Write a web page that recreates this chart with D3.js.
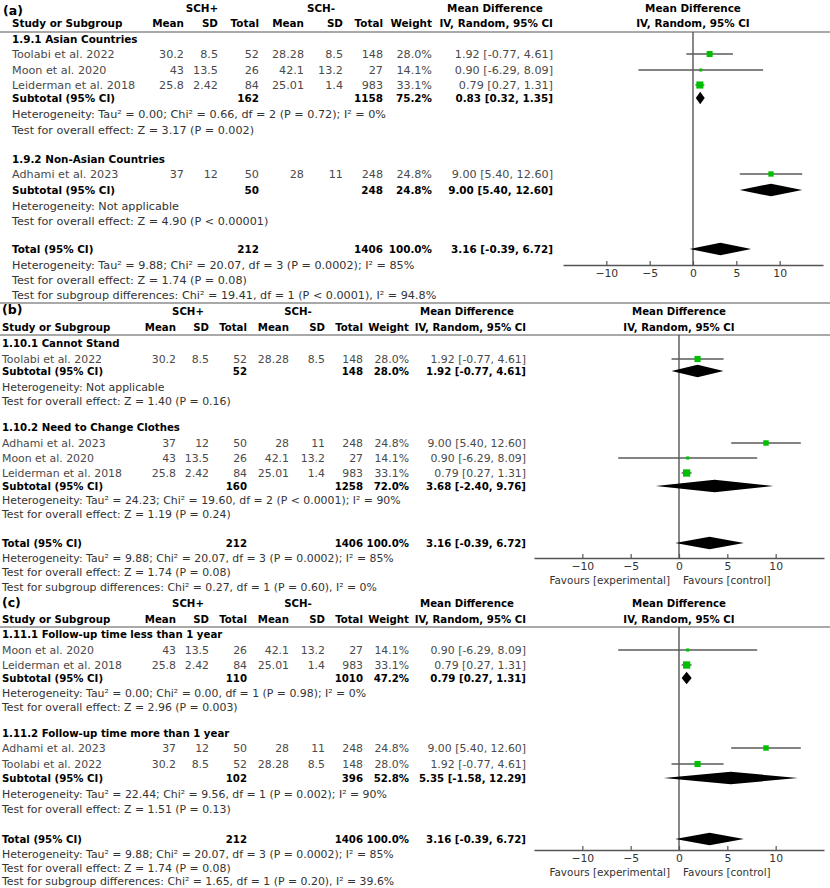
<!DOCTYPE html>
<html><head><meta charset="utf-8">
<script src="https://cdn.jsdelivr.net/npm/d3@7"></script>
<style>
body{margin:0;background:#fff}
svg{display:block}
text{font-family:"DejaVu Sans",sans-serif}
</style>
</head><body>
<svg id="chart" width="830" height="888"></svg>
<script>
// ---------------- DATA ----------------
const studyNames = ["Toolabi et al. 2022", "Moon et al. 2020", "Leiderman et al. 2018", "Adhami et al. 2023"];
const posMean = ["30.2", "43", "25.8", "37"];
const posSD = ["8.5", "13.5", "2.42", "12"];
const posTotal = [52, 26, 84, 50];
const negMean = ["28.28", "42.1", "25.01", "28"];
const negSD = ["8.5", "13.2", "1.4", "11"];
const negTotal = [148, 27, 983, 248];
const studyWeight = [28.0, 14.1, 33.1, 24.8];
const studyMD = [1.92, 0.90, 0.79, 9.00];
const studyLow = [-0.77, -6.29, 0.27, 5.40];
const studyHigh = [4.61, 8.09, 1.31, 12.60];

const panelLabels = ["(a)", "(b)", "(c)"];
const groupTitles = [
  ["1.9.1 Asian Countries", "1.9.2 Non-Asian Countries"],
  ["1.10.1 Cannot Stand", "1.10.2 Need to Change Clothes"],
  ["1.11.1 Follow-up time less than 1 year", "1.11.2 Follow-up time more than 1 year"]
];
const groupStudies = [
  [[0, 1, 2], [3]],
  [[0], [3, 1, 2]],
  [[1, 2], [3, 0]]
];
const subPosTotal = [[162, 50], [52, 160], [110, 102]];
const subNegTotal = [[1158, 248], [148, 1258], [1010, 396]];
const subWeight = [["75.2%", "24.8%"], ["28.0%", "72.0%"], ["47.2%", "52.8%"]];
const subMD = [[0.83, 9.00], [1.92, 3.68], [0.79, 5.35]];
const subLow = [[0.32, 5.40], [-0.77, -2.40], [0.27, -1.58]];
const subHigh = [[1.35, 12.60], [4.61, 9.76], [1.31, 12.29]];
const subHet = [
  ["Heterogeneity: Tau² = 0.00; Chi² = 0.66, df = 2 (P = 0.72); I² = 0%", "Heterogeneity: Not applicable"],
  ["Heterogeneity: Not applicable", "Heterogeneity: Tau² = 24.23; Chi² = 19.60, df = 2 (P < 0.0001); I² = 90%"],
  ["Heterogeneity: Tau² = 0.00; Chi² = 0.00, df = 1 (P = 0.98); I² = 0%", "Heterogeneity: Tau² = 22.44; Chi² = 9.56, df = 1 (P = 0.002); I² = 90%"]
];
const subTest = [
  ["Test for overall effect: Z = 3.17 (P = 0.002)", "Test for overall effect: Z = 4.90 (P < 0.00001)"],
  ["Test for overall effect: Z = 1.40 (P = 0.16)", "Test for overall effect: Z = 1.19 (P = 0.24)"],
  ["Test for overall effect: Z = 2.96 (P = 0.003)", "Test for overall effect: Z = 1.51 (P = 0.13)"]
];
const subgroupTests = [
  "Test for subgroup differences: Chi² = 19.41, df = 1 (P < 0.0001), I² = 94.8%",
  "Test for subgroup differences: Chi² = 0.27, df = 1 (P = 0.60), I² = 0%",
  "Test for subgroup differences: Chi² = 1.65, df = 1 (P = 0.20), I² = 39.6%"
];
const totalPos = 212, totalNeg = 1406, totalWeight = "100.0%";
const totalMD = 3.16, totalLow = -0.39, totalHigh = 6.72;
const totalHet = "Heterogeneity: Tau² = 9.88; Chi² = 20.07, df = 3 (P = 0.0002); I² = 85%";
const totalTest = "Test for overall effect: Z = 1.74 (P = 0.08)";
const tickValues = [-10, -5, 0, 5, 10];
const axisDomain = [-15, 15];
const favourLabels = ["Favours [experimental]", "Favours [control]"];

// ---------------- LAYOUT ----------------
const layouts = [
  { fs: 11.2, fb: 10.4, labelX: 3, labelY: 11, h1: 8, h2: 23, line: 32,
    c: {study: 12, pm: 184, psd: 218, pn: 259, nm: 304, nsd: 343, nn: 383, w: 432, md: 553, schP: 202, schN: 321, mdHdr: 495},
    range: [563, 823], axisY: 265, favours: false, sq: 0.215,
    gy: [39, 159], sy: [[54, 70, 85], [174]], suby: [98, 190], hety: [114, 206], testy: [130, 221],
    toty: 249, totHety: 265, totTesty: 280, sgy: 295, topLine: null },
  { fs: 10.9, fb: 10.2, labelX: 2, labelY: 310, h1: 311, h2: 327, line: 335,
    c: {study: 2, pm: 176, psd: 209, pn: 247, nm: 289, nsd: 325, nn: 363, w: 409, md: 526, schP: 188, schN: 298, mdHdr: 467},
    range: [534, 824], axisY: 558, favours: true, favY: 580, sq: 0.22,
    gy: [343, 427], sy: [[359], [443, 458, 473]], suby: [371, 486], hety: [387, 500], testy: [401, 514],
    toty: 543, totHety: 558, totTesty: 572, sgy: 587, topLine: 303 },
  { fs: 10.9, fb: 10.2, labelX: 2, labelY: 603, h1: 603, h2: 619, line: 627,
    c: {study: 2, pm: 176, psd: 209, pn: 247, nm: 289, nsd: 325, nn: 363, w: 409, md: 526, schP: 188, schN: 298, mdHdr: 467},
    range: [534, 824], axisY: 850, favours: true, favY: 872, sq: 0.22,
    gy: [634, 733], sy: [[650, 665], [748, 764]], suby: [678, 778], hety: [693, 794], testy: [707, 809],
    toty: 839, totHety: 854, totTesty: 868, sgy: 881, topLine: null }
];

const svg = d3.select("#chart");
const fmt2 = d3.format(".2f");
const mdText = (m, l, h) => `${fmt2(m)} [${fmt2(l).replace("−", "-")}, ${fmt2(h).replace("−", "-")}]`;
const GRAY = "#4a4a4a", LINE = "#555";

function txt(g, x, y, s, opt = {}) {
  return g.append("text").attr("x", x).attr("y", y).attr("dy", "0.36em")
    .attr("text-anchor", opt.anchor || "start")
    .attr("font-size", opt.fs)
    .attr("font-weight", opt.bold ? "bold" : "normal")
    .attr("fill", opt.fill || (opt.bold ? "#000" : GRAY))
    .text(s);
}

layouts.forEach((L, p) => {
  const g = svg.append("g");
  const fs = L.fs, fb = L.fb, c = L.c;
  const x = d3.scaleLinear().domain(axisDomain).range(L.range);

  if (L.topLine !== null) {
    g.append("line").attr("x1", 0).attr("x2", 830).attr("y1", L.topLine).attr("y2", L.topLine)
      .attr("stroke", LINE).attr("stroke-width", 1.2);
  }
  // panel label
  g.append("text").attr("x", L.labelX).attr("y", L.labelY).attr("dy", "0.33em")
    .attr("font-family", "'Liberation Serif', serif").attr("font-weight", "bold")
    .attr("font-size", 12.5).attr("fill", "#000").text(panelLabels[p]);

  // headers
  const hb = {fs: fb, bold: true};
  txt(g, c.schP, L.h1, "SCH+", {...hb, anchor: "middle"});
  txt(g, c.schN, L.h1, "SCH-", {...hb, anchor: "middle"});
  txt(g, c.mdHdr, L.h1, "Mean Difference", {...hb, anchor: "middle"});
  txt(g, x(0), L.h1, "Mean Difference", {...hb, anchor: "middle"});
  txt(g, c.study, L.h2, "Study or Subgroup", hb);
  [["pm", "Mean"], ["psd", "SD"], ["pn", "Total"], ["nm", "Mean"], ["nsd", "SD"], ["nn", "Total"], ["w", "Weight"]]
    .forEach(([k, s]) => txt(g, c[k], L.h2, s, {...hb, anchor: "end"}));
  txt(g, c.md, L.h2, "IV, Random, 95% CI", {...hb, anchor: "end"});
  txt(g, x(0), L.h2, "IV, Random, 95% CI", {...hb, anchor: "middle"});
  g.append("line").attr("x1", 0).attr("x2", 830).attr("y1", L.line).attr("y2", L.line)
    .attr("stroke", LINE).attr("stroke-width", 1.2);

  const marks = g.append("g");
  function diamond(m, lo, hi, y) {
    const hh = 6.3;
    marks.append("path")
      .attr("d", `M${x(lo)},${y}L${x(m)},${y - hh}L${x(hi)},${y}L${x(m)},${y + hh}Z`)
      .attr("fill", "#000");
  }

  groupTitles[p].forEach((title, gi) => {
    txt(g, c.study, L.gy[gi], title, {fs: fb, bold: true});
    groupStudies[p][gi].forEach((si, k) => {
      const y = L.sy[gi][k];
      txt(g, c.study, y, studyNames[si], {fs});
      txt(g, c.pm, y, posMean[si], {fs, anchor: "end"});
      txt(g, c.psd, y, posSD[si], {fs, anchor: "end"});
      txt(g, c.pn, y, posTotal[si], {fs, anchor: "end"});
      txt(g, c.nm, y, negMean[si], {fs, anchor: "end"});
      txt(g, c.nsd, y, negSD[si], {fs, anchor: "end"});
      txt(g, c.nn, y, negTotal[si], {fs, anchor: "end"});
      txt(g, c.w, y, studyWeight[si].toFixed(1) + "%", {fs, anchor: "end"});
      txt(g, c.md, y, mdText(studyMD[si], studyLow[si], studyHigh[si]), {fs, anchor: "end"});
      marks.append("line").attr("x1", x(studyLow[si])).attr("x2", x(studyHigh[si]))
        .attr("y1", y).attr("y2", y).attr("stroke", "#5a5a5a").attr("stroke-width", 1.4);
      const s = studyWeight[si] * L.sq;
      marks.append("rect").attr("x", x(studyMD[si]) - s / 2).attr("y", y - s / 2)
        .attr("width", s).attr("height", s).attr("fill", "#00bf00");
    });
    const ys = L.suby[gi];
    txt(g, c.study, ys, "Subtotal (95% CI)", {fs: fb, bold: true});
    txt(g, c.pn, ys, subPosTotal[p][gi], {fs: fb, bold: true, anchor: "end"});
    txt(g, c.nn, ys, subNegTotal[p][gi], {fs: fb, bold: true, anchor: "end"});
    txt(g, c.w, ys, subWeight[p][gi], {fs: fb, bold: true, anchor: "end"});
    txt(g, c.md, ys, mdText(subMD[p][gi], subLow[p][gi], subHigh[p][gi]), {fs: fb, bold: true, anchor: "end"});
    diamond(subMD[p][gi], subLow[p][gi], subHigh[p][gi], ys);
    txt(g, c.study, L.hety[gi], subHet[p][gi], {fs, fill: "#333"});
    txt(g, c.study, L.testy[gi], subTest[p][gi], {fs, fill: "#333"});
  });

  txt(g, c.study, L.toty, "Total (95% CI)", {fs: fb, bold: true});
  txt(g, c.pn, L.toty, totalPos, {fs: fb, bold: true, anchor: "end"});
  txt(g, c.nn, L.toty, totalNeg, {fs: fb, bold: true, anchor: "end"});
  txt(g, c.w, L.toty, totalWeight, {fs: fb, bold: true, anchor: "end"});
  txt(g, c.md, L.toty, mdText(totalMD, totalLow, totalHigh), {fs: fb, bold: true, anchor: "end"});
  diamond(totalMD, totalLow, totalHigh, L.toty);
  txt(g, c.study, L.totHety, totalHet, {fs, fill: "#333"});
  txt(g, c.study, L.totTesty, totalTest, {fs, fill: "#333"});
  txt(g, c.study, L.sgy, subgroupTests[p], {fs, fill: "#333"});

  // zero line
  g.append("line").attr("x1", x(0)).attr("x2", x(0)).attr("y1", L.line).attr("y2", L.axisY)
    .attr("stroke", LINE).attr("stroke-width", 1.4);
  marks.raise();

  // axis
  const ax = g.append("g").attr("transform", `translate(0,${L.axisY})`)
    .call(d3.axisBottom(x).tickValues(tickValues).tickSizeInner(-4).tickSizeOuter(0).tickPadding(4));
  ax.attr("font-family", "'DejaVu Sans', sans-serif").attr("font-size", 10.8);
  ax.select(".domain").attr("stroke", LINE).attr("stroke-width", 1.3);
  ax.selectAll(".tick line").attr("stroke", LINE).attr("stroke-width", 1.2);
  ax.selectAll(".tick text").attr("fill", "#333");

  if (L.favours) {
    txt(g, x(0) - 9, L.favY, favourLabels[0], {fs: 10.4, anchor: "end", fill: "#333"});
    txt(g, x(0) + 4, L.favY, favourLabels[1], {fs: 10.4, fill: "#333"});
  }
});
</script>
</body></html>
